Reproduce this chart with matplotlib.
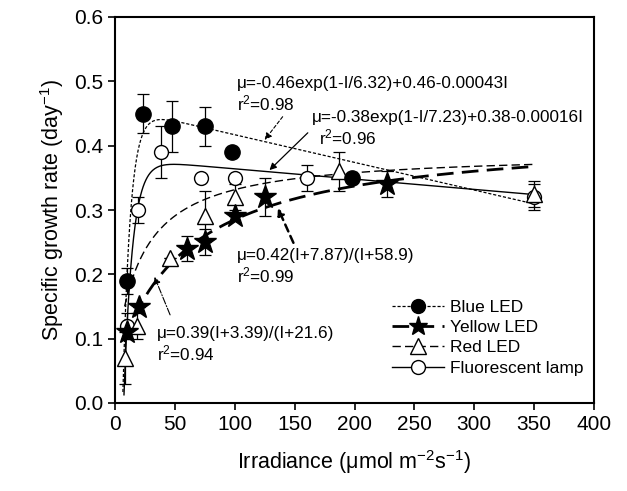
import numpy as np
import matplotlib.pyplot as plt

plt.rcParams['font.family'] = ['Liberation Sans', 'DejaVu Sans']
plt.rcParams['mathtext.fontset'] = 'custom'
plt.rcParams['mathtext.rm'] = 'Liberation Sans'
plt.rcParams['mathtext.it'] = 'Liberation Sans:italic'
plt.rcParams['mathtext.default'] = 'regular'

# 数据
blue_x = [10, 23, 48, 75, 98, 198]
blue_y = [0.19, 0.45, 0.43, 0.43, 0.39, 0.35]
blue_e = [0.02, 0.03, 0.04, 0.03, 0.0, 0.0]

yellow_x = [10, 20, 60, 75, 100, 125, 227]
yellow_y = [0.11, 0.15, 0.24, 0.25, 0.29, 0.32, 0.34]
yellow_e = [0.01, 0.0, 0.02, 0.02, 0.0, 0.03, 0.02]

red_x = [8, 18, 46, 75, 100, 187, 350]
red_y = [0.07, 0.12, 0.225, 0.29, 0.32, 0.36, 0.325]
red_e = [0.04, 0.02, 0.0, 0.04, 0.02, 0.03, 0.02]

fl_x = [10, 19, 38, 72, 100, 160, 350]
fl_y = [0.12, 0.30, 0.39, 0.35, 0.35, 0.35, 0.32]
fl_e = [0.02, 0.02, 0.04, 0.0, 0.0, 0.02, 0.02]


def blue_fit(i):
    return -0.46 * np.exp(1 - i / 6.32) + 0.46 - 0.00043 * i


def fl_fit(i):
    return -0.38 * np.exp(1 - i / 7.23) + 0.38 - 0.00016 * i


def yellow_fit(i):
    return 0.42 * (i + 7.87) / (i + 58.9)


def red_fit(i):
    return 0.39 * (i + 3.39) / (i + 21.6)


def main():
    fig = plt.figure(figsize=(6.27, 4.91), dpi=100)
    ax = fig.add_axes([115 / 627, 1 - 403 / 491, 479 / 627, 386 / 491])

    # 拟合曲线
    I1 = np.linspace(6.6, 350, 600)
    I2 = np.linspace(7.5, 350, 600)
    I3 = np.linspace(8, 350, 300)
    ax.plot(I1, blue_fit(I1), color='k', lw=0.9, dashes=(2.5, 1.5))
    ax.plot(I2, fl_fit(I2), color='k', lw=1.0, ls='-')
    ax.plot(I3, yellow_fit(I3), color='k', lw=2.0, dashes=(6, 3))
    ax.plot(I3, red_fit(I3), color='k', lw=1.0, dashes=(6, 3))

    # 误差棒
    ekw = dict(fmt='none', ecolor='k', elinewidth=0.9, capsize=4, capthick=0.9)
    ax.errorbar(blue_x, blue_y, yerr=blue_e, **ekw)
    ax.errorbar(yellow_x, yellow_y, yerr=yellow_e, **ekw)
    ax.errorbar(red_x, red_y, yerr=red_e, **ekw)
    ax.errorbar(fl_x, fl_y, yerr=fl_e, **ekw)

    # 散点
    ax.plot(fl_x, fl_y, 'o', ms=10, mfc='white', mec='k', mew=1.0, ls='none')
    ax.plot(red_x, red_y, '^', ms=12, mfc='white', mec='k', mew=1.0, ls='none')
    ax.plot(yellow_x, yellow_y, '*', ms=17, mfc='k', mec='k', ls='none')
    ax.plot(blue_x, blue_y, 'o', ms=11, mfc='k', mec='k', ls='none')

    # 图例
    h1, = ax.plot([], [], color='k', lw=0.9, dashes=(2.5, 1.5), marker='o', ms=10, mfc='k')
    h2, = ax.plot([], [], color='k', lw=2.0, dashes=(6, 3), marker='*', ms=14, mfc='k')
    h3, = ax.plot([], [], color='k', lw=1.0, dashes=(6, 3), marker='^', ms=11, mfc='white')
    h4, = ax.plot([], [], color='k', lw=1.0, ls='-', marker='o', ms=10, mfc='white')
    ax.legend([h1, h2, h3, h4], ['Blue LED', 'Yellow LED', 'Red LED', 'Fluorescent lamp'],
              loc='lower right', bbox_to_anchor=(1.01, 0.03), frameon=False,
              fontsize=12.5, handlelength=3.0, handletextpad=0.3, labelspacing=0.3)

    # 注释: 公式文字
    fs = 12.3
    tkw = dict(fontsize=fs, ha='left', va='center')
    ax.text(102, 0.497, 'μ=-0.46exp(1-I/6.32)+0.46-0.00043I', **tkw)
    ax.text(102, 0.466, 'r$^2$=0.98', **tkw)
    ax.text(164, 0.444, 'μ=-0.38exp(1-I/7.23)+0.38-0.00016I', **tkw)
    ax.text(170, 0.413, 'r$^2$=0.96', **tkw)
    ax.text(102, 0.230, 'μ=0.42(I+7.87)/(I+58.9)', **tkw)
    ax.text(102, 0.199, 'r$^2$=0.99', **tkw)
    ax.text(35, 0.108, 'μ=0.39(I+3.39)/(I+21.6)', **tkw)
    ax.text(35, 0.077, 'r$^2$=0.94', **tkw)

    # 箭头
    ax.annotate('', xy=(125, 0.409), xytext=(140, 0.445),
                arrowprops=dict(arrowstyle='-|>', color='k', lw=0.8, ls=(0, (3, 2)),
                                shrinkA=0, shrinkB=0))
    ax.annotate('', xy=(129, 0.362), xytext=(161, 0.42),
                arrowprops=dict(arrowstyle='-|>', color='k', lw=0.9,
                                shrinkA=0, shrinkB=0))
    ax.annotate('', xy=(136, 0.303), xytext=(149, 0.249),
                arrowprops=dict(arrowstyle='-|>', color='k', lw=1.8, ls=(0, (3, 2)),
                                shrinkA=0, shrinkB=0))
    ax.annotate('', xy=(33, 0.196), xytext=(46, 0.137),
                arrowprops=dict(arrowstyle='-|>', color='k', lw=0.8, ls='-.',
                                shrinkA=0, shrinkB=0))

    ax.set_xlim(0, 400)
    ax.set_ylim(0, 0.6)
    ax.set_xticks(np.arange(0, 401, 50))
    ax.set_yticks(np.arange(0, 0.61, 0.1))
    ax.set_yticklabels(['%.1f' % v for v in np.arange(0, 0.61, 0.1)])
    ax.tick_params(labelsize=15, length=5, width=1.2, direction='out')
    for s in ax.spines.values():
        s.set_linewidth(1.5)

    ax.set_xlabel('Irradiance (μmol m$^{-2}$s$^{-1}$)', fontsize=15.5, labelpad=10)
    ax.set_ylabel('Specific growth rate (day$^{-1}$)', fontsize=15.5, labelpad=6)

    plt.savefig('out.png', dpi=100)


if __name__ == '__main__':
    main()
